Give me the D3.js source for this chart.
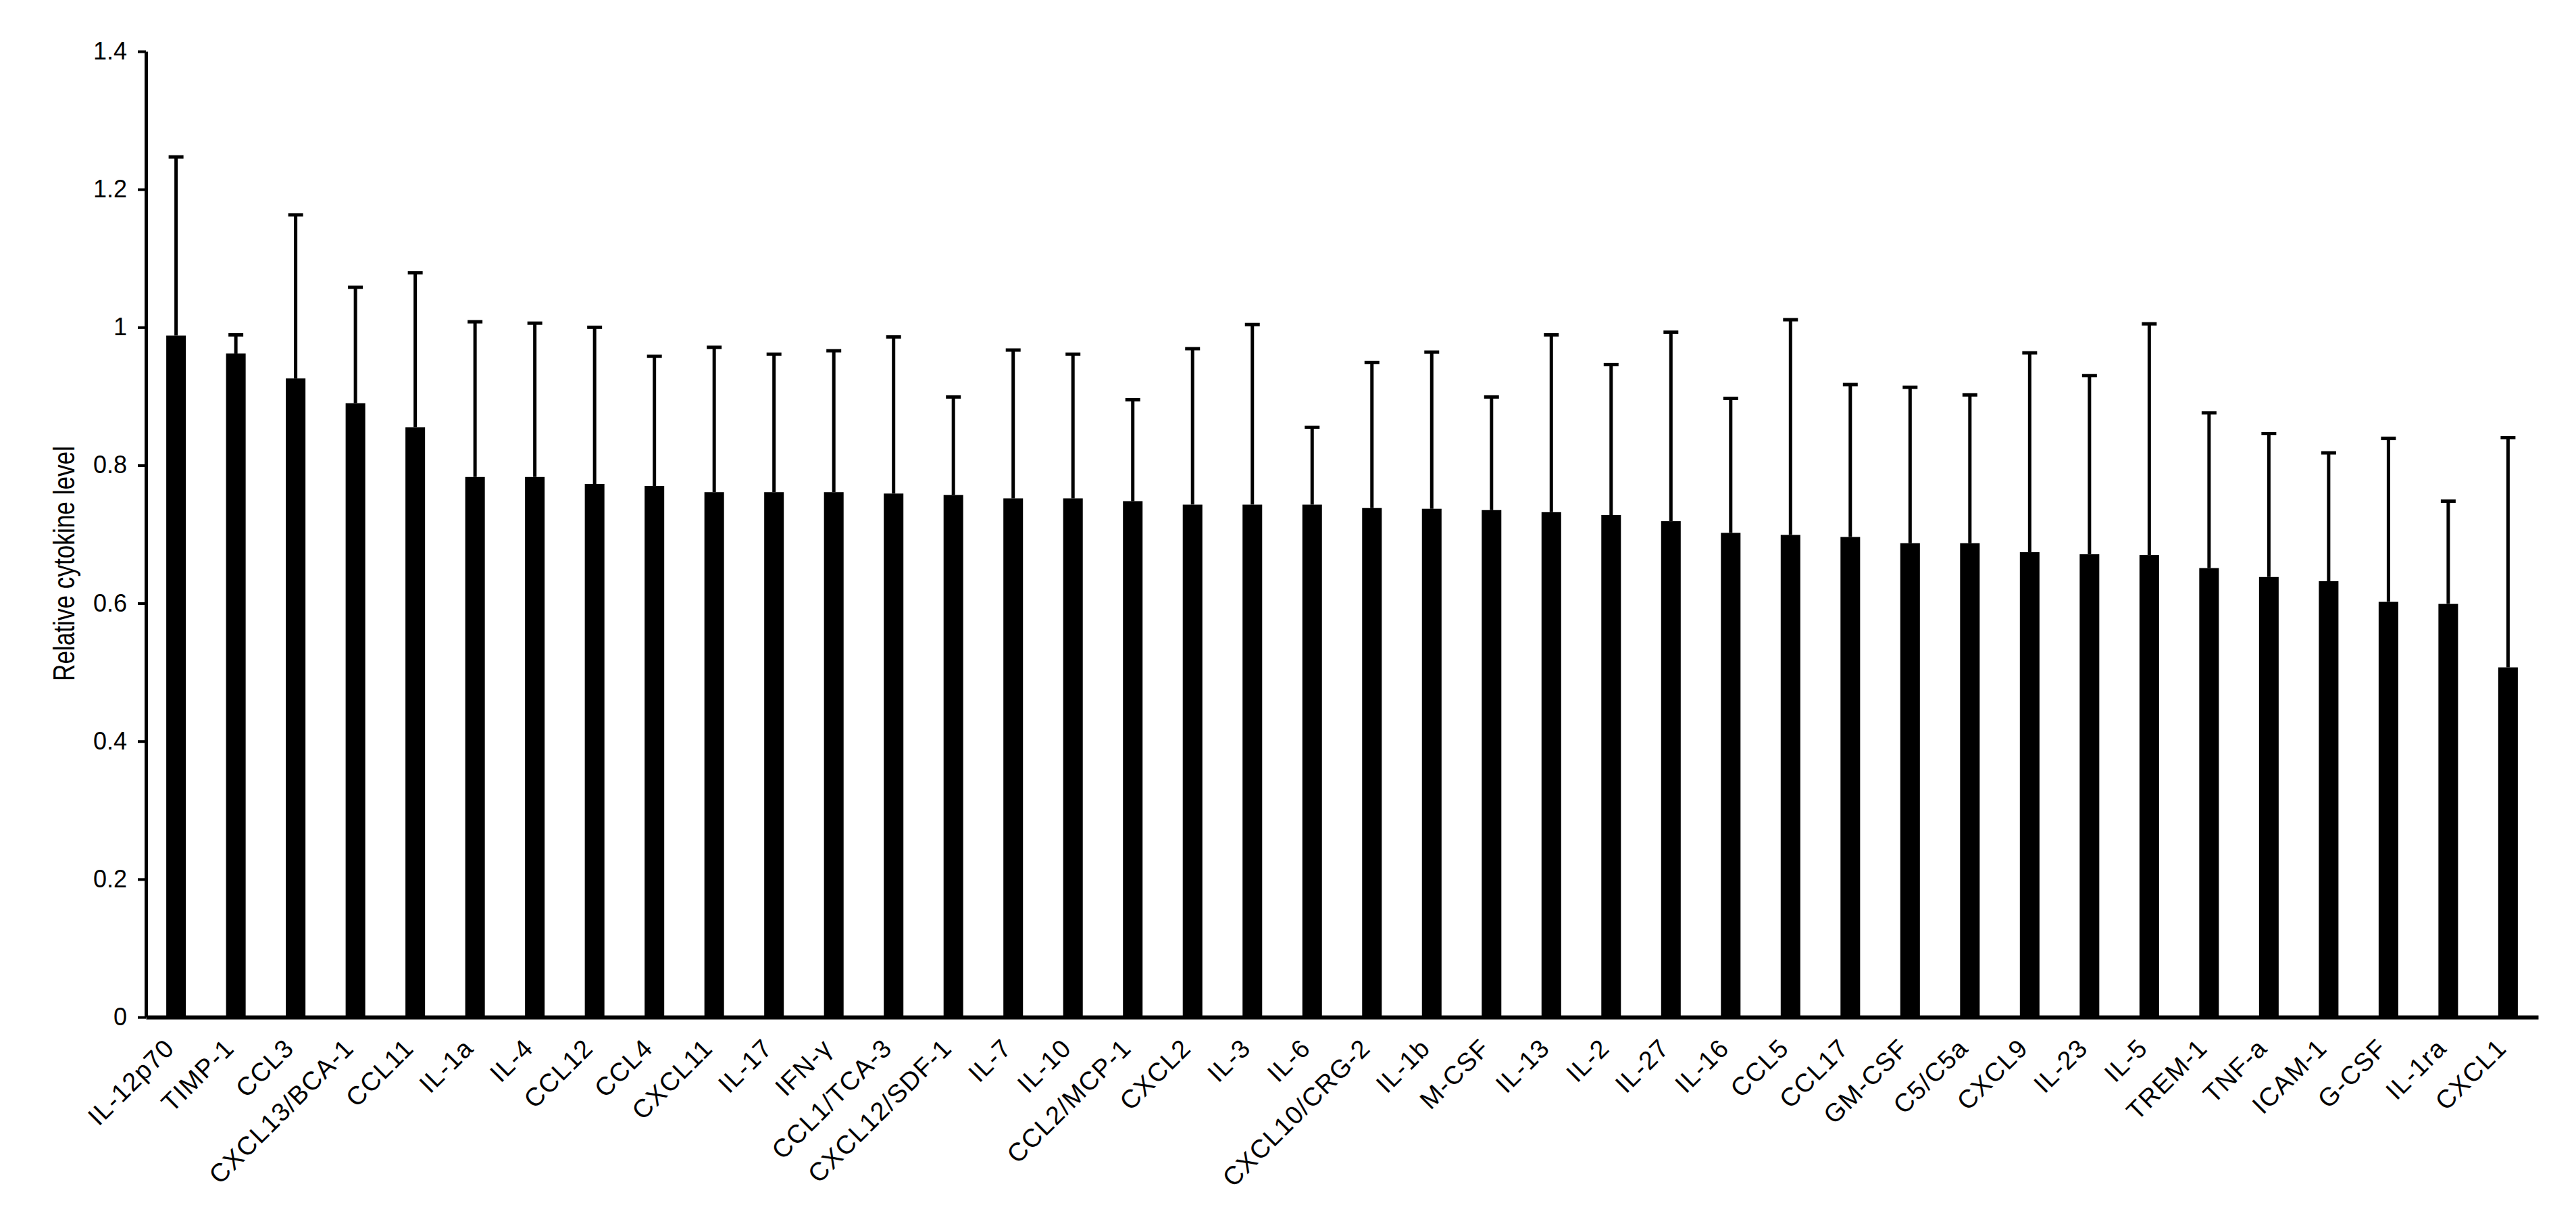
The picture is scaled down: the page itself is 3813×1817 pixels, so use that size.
<!DOCTYPE html>
<html>
<head>
<meta charset="utf-8">
<script src="https://cdn.jsdelivr.net/npm/d3@7"></script>
<style>
  html, body { margin: 0; padding: 0; background: #fff; }
  svg { display: block; }
  text { font-family: "Liberation Sans", Arial, Helvetica, sans-serif; fill: #000; }
</style>
</head>
<body>
<svg id="chart" width="3813" height="1817"></svg>
<script>
const categories = ["IL-12p70","TIMP-1","CCL3","CXCL13/BCA-1","CCL11","IL-1a","IL-4","CCL12","CCL4","CXCL11","IL-17","IFN-γ","CCL1/TCA-3","CXCL12/SDF-1","IL-7","IL-10","CCL2/MCP-1","CXCL2","IL-3","IL-6","CXCL10/CRG-2","IL-1b","M-CSF","IL-13","IL-2","IL-27","IL-16","CCL5","CCL17","GM-CSF","C5/C5a","CXCL9","IL-23","IL-5","TREM-1","TNF-a","ICAM-1","G-CSF","IL-1ra","CXCL1"];
const means = [0.988,0.962,0.926,0.890,0.855,0.783,0.783,0.773,0.770,0.761,0.761,0.761,0.759,0.757,0.752,0.752,0.748,0.743,0.743,0.743,0.738,0.737,0.735,0.732,0.728,0.719,0.702,0.699,0.696,0.687,0.687,0.674,0.671,0.670,0.651,0.638,0.632,0.602,0.599,0.507];
const errors = [0.259,0.027,0.237,0.168,0.224,0.225,0.223,0.227,0.188,0.210,0.200,0.205,0.227,0.142,0.215,0.209,0.147,0.226,0.261,0.112,0.211,0.227,0.164,0.257,0.218,0.274,0.195,0.312,0.221,0.226,0.215,0.289,0.259,0.335,0.225,0.208,0.186,0.237,0.149,0.333];
const yTicks = [0, 0.2, 0.4, 0.6, 0.8, 1, 1.2, 1.4];
const yTickLabels = ["0", "0.2", "0.4", "0.6", "0.8", "1", "1.2", "1.4"];
const yTitle = "Relative cytokine level";

const svg = d3.select("#chart");
const x0 = 216, x1 = 3757, yBase = 1505, yTop = 76;

const x = d3.scaleBand().domain(categories).range([x0, x1]).paddingInner(0.672).paddingOuter(0.34);
const y = d3.scaleLinear().domain([0, 1.4]).range([yBase, yTop]);

const data = categories.map((c, i) => ({ c, m: means[i], e: errors[i] }));

// bars
svg.append("g").selectAll("rect").data(data).join("rect")
  .attr("x", d => x(d.c))
  .attr("width", x.bandwidth())
  .attr("y", d => y(d.m))
  .attr("height", d => y(0) - y(d.m))
  .attr("fill", "#000");

// error bars (upper only)
const eg = svg.append("g").attr("stroke", "#000").attr("stroke-width", 5);
eg.selectAll("line.w").data(data).join("line").attr("class", "w")
  .attr("x1", d => x(d.c) + x.bandwidth() / 2)
  .attr("x2", d => x(d.c) + x.bandwidth() / 2)
  .attr("y1", d => y(d.m))
  .attr("y2", d => y(d.m + d.e));
eg.selectAll("line.c").data(data).join("line").attr("class", "c")
  .attr("x1", d => x(d.c) + x.bandwidth() / 2 - 11)
  .attr("x2", d => x(d.c) + x.bandwidth() / 2 + 11)
  .attr("y1", d => y(d.m + d.e))
  .attr("y2", d => y(d.m + d.e));

// y axis
const yAxis = d3.axisLeft(y).tickValues(yTicks).tickFormat((d, i) => yTickLabels[i]).tickSize(12).tickSizeOuter(0).tickPadding(16);
const gy = svg.append("g").attr("transform", `translate(${x0},0)`).call(yAxis);
gy.select(".domain").attr("stroke", "#000").attr("stroke-width", 5);
gy.selectAll(".tick line").attr("stroke", "#000").attr("stroke-width", 4);
gy.selectAll(".tick text").attr("font-size", 36).attr("font-family", "'Liberation Sans', Arial, sans-serif").attr("fill", "#000");

// x axis
const xAxis = d3.axisBottom(x).tickSize(0).tickSizeOuter(0);
const gx = svg.append("g").attr("transform", `translate(0,${yBase})`).call(xAxis);
gx.select(".domain").attr("stroke", "#000").attr("stroke-width", 6);
gx.selectAll(".tick text")
  .attr("font-size", 38)
  .attr("letter-spacing", "1.5px")
  .attr("font-family", "'Liberation Sans', Arial, sans-serif")
  .attr("fill", "#000")
  .attr("text-anchor", "end")
  .attr("y", 0).attr("dy", 0)
  .attr("transform", "translate(0,48) rotate(-45)");

// y title
svg.append("text")
  .attr("transform", `translate(110,834) rotate(-90)`)
  .attr("text-anchor", "middle")
  .attr("font-size", 45)
  .attr("textLength", 348)
  .attr("lengthAdjust", "spacingAndGlyphs")
  .text(yTitle);
</script>
</body>
</html>
